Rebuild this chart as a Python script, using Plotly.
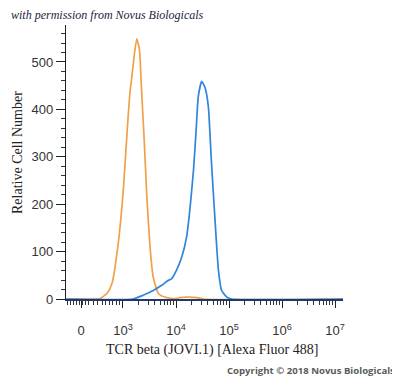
import plotly.graph_objects as go
import numpy as np

# Display units: position on logicle axis in decades (10^3 -> 3, ...)
orange_x = [1.92, 2.50, 2.57, 2.70, 2.79, 2.91, 3.006, 3.08, 3.13, 3.16, 3.21, 3.26,
            3.31, 3.35, 3.40, 3.45, 3.51, 3.57, 3.67, 3.82, 4.00, 4.07, 4.20, 4.40, 4.50, 7.15]
orange_y = [0, 0, 1, 12, 32, 117, 230, 357, 434, 462, 512, 549,
            526, 441, 335, 216, 110, 46, 11, 3, 1, 3, 4, 3, 0, 0]

blue_x = [1.92, 3.19, 3.38, 3.57, 3.73, 3.85, 3.92, 4.01, 4.11, 4.20, 4.26, 4.33,
          4.38, 4.42, 4.485, 4.55, 4.61, 4.67, 4.74, 4.80, 4.86, 4.96, 5.05, 7.15]
blue_y = [0, 0, 8, 18, 29, 39, 43, 61, 89, 131, 187, 272,
          357, 427, 459, 445, 406, 286, 159, 61, 18, 4, 0, 0]

x_tick_vals = [2.21, 3, 4, 5, 6, 7]
x_tick_text = ["0", "10<sup>3</sup>", "10<sup>4</sup>", "10<sup>5</sup>", "10<sup>6</sup>", "10<sup>7</sup>"]
low_minor = [1.955, 2.006, 2.057, 2.119, 2.181, 2.232, 2.294, 2.358, 2.445,
             2.521, 2.604, 2.666, 2.747, 2.811, 2.874, 2.936]
log_minor = [d + np.log10(k) for d in range(3, 7) for k in range(2, 10)]
x_minor = low_minor + log_minor

y_tick_vals = [0, 100, 200, 300, 400, 500]

fig = go.Figure()
fig.add_trace(go.Scatter(x=orange_x, y=orange_y, mode="lines",
                         line=dict(color="#F0A048", width=1.7, shape="spline", smoothing=0.5),
                         hoverinfo="skip"))
fig.add_trace(go.Scatter(x=blue_x, y=blue_y, mode="lines",
                         line=dict(color="#3085DC", width=1.7, shape="spline", smoothing=0.5),
                         hoverinfo="skip"))

# page body has an 8px default margin, so the figure is 8px smaller and shifted
fig.update_layout(
    width=392, height=370,
    margin=dict(l=58, r=57, t=17, b=79),
    paper_bgcolor="white", plot_bgcolor="white",
    showlegend=False,
    xaxis=dict(range=[1.925, 7.15], showgrid=False, zeroline=False,
               showline=True, linecolor="#1f3a6a", linewidth=1.5,
               tickmode="array", tickvals=x_tick_vals, ticktext=x_tick_text,
               ticks="outside", ticklen=7, tickcolor="#222", tickwidth=1,
               ticklabelstandoff=12,
               tickfont=dict(family="Liberation Sans, Arial", size=13, color="#333"),
               minor=dict(tickmode="array", tickvals=x_minor, ticks="outside",
                          ticklen=4, tickcolor="#333", tickwidth=1, showgrid=False)),
    yaxis=dict(range=[0, 578], showgrid=False, zeroline=False,
               showline=True, linecolor="#222", linewidth=1.2,
               tickmode="array", tickvals=y_tick_vals,
               ticks="outside", ticklen=9, tickcolor="#222", tickwidth=1,
               tickfont=dict(family="Liberation Sans, Arial", size=13, color="#333"),
               minor=dict(tickmode="linear", tick0=0, dtick=20, ticks="outside",
                          ticklen=4, tickcolor="#333", tickwidth=1, showgrid=False)),
    annotations=[
        dict(text="TCR beta (JOVI.1) [Alexa Fluor 488]", xref="paper", yref="paper",
             x=(212 - 66) / 277, y=-(350 - 299) / 274, xanchor="center", yanchor="middle",
             showarrow=False, font=dict(family="Liberation Serif, Times New Roman", size=14, color="#222")),
        dict(text="Relative Cell Number", xref="paper", yref="paper",
             x=-(66 - 17) / 277, y=(299 - 153) / 274, xanchor="center", yanchor="middle",
             textangle=-90, showarrow=False,
             font=dict(family="Liberation Serif, Times New Roman", size=14, color="#222")),
        dict(text="<i>with permission from Novus Biologicals</i>", xref="paper", yref="paper",
             x=-(66 - 9) / 277, y=1 + (25 - 15) / 274, xanchor="left", yanchor="middle",
             showarrow=False, font=dict(family="Liberation Serif, Times New Roman", size=12, color="#1c1c3c")),
        dict(text="<b>Copyright © 2018 Novus Biologicals</b>", xref="paper", yref="paper",
             x=1 + (397 - 343) / 277, y=-(370 - 299) / 274, xanchor="right", yanchor="middle",
             showarrow=False, font=dict(family="Open Sans", size=9.6, color="#5a5a5a")),
    ],
)

fig.write_html("out.html")
